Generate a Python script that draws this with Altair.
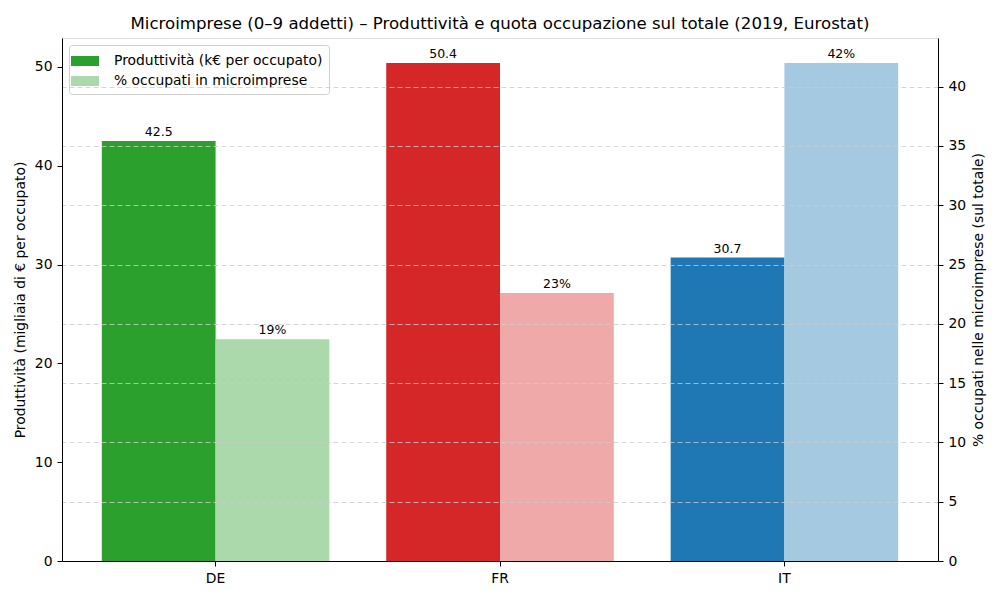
import altair as alt
import pandas as pd

countries = ["DE", "FR", "IT"]
produttivita = [42.5, 50.4, 30.7]
quota_occupati = [18.7, 22.6, 42.0]
dark_colors = ["#2ca02c", "#d62728", "#1f77b4"]
light_colors = ["#abd9ab", "#efa9a9", "#a5c9e1"]
series_labels = {"p": "Produttività (k€ per occupato)", "o": "% occupati in microimprese"}

rows_p = [{"country": c, "series": "p", "key": c + "|p", "value": v, "label": f"{v:.1f}"}
          for c, v in zip(countries, produttivita)]
rows_o = [{"country": c, "series": "o", "key": c + "|o", "value": v, "label": f"{v:.0f}%"}
          for c, v in zip(countries, quota_occupati)]
df_p = pd.DataFrame(rows_p)
df_o = pd.DataFrame(rows_o)

keys = [c + "|p" for c in countries] + [c + "|o" for c in countries]
cols = dark_colors + light_colors

FONT = "DejaVu Sans"
TICK_FS = 13.9

x_enc = alt.X("country:N", sort=countries, title=None,
              scale=alt.Scale(paddingInner=0.2, paddingOuter=0.14),
              axis=alt.Axis(labelAngle=0, labelFontSize=TICK_FS, labelColor="black",
                            tickColor="black", domainColor="black", tickSize=5,
                            labelPadding=5, labelFont=FONT, zindex=2))
xo_enc = alt.XOffset("series:N", scale=alt.Scale(domain=["p", "o"]))

color_enc = alt.Color(
    "key:N",
    scale=alt.Scale(domain=keys, range=cols),
    legend=alt.Legend(
        orient="top-left", offset=7, title=None, values=["DE|p", "DE|o"],
        labelExpr="datum.value == 'DE|p' ? '" + series_labels["p"] + "' : '" + series_labels["o"] + "'",
        symbolType="M-1.4,-0.5H1.4V0.5H-1.4Z", symbolSize=400, symbolOpacity=1,
        symbolStrokeWidth=0, labelFontSize=13.9, labelFont=FONT, labelColor="black",
        strokeColor="#d0d0d0", fillColor="rgba(255,255,255,0.8)", padding=6,
        cornerRadius=3, rowPadding=3, labelLimit=0, labelOffset=19,
    ),
)

y_left = alt.Y("value:Q", title="Produttività (migliaia di € per occupato)",
               scale=alt.Scale(domain=[0, 52.92], nice=False, zero=True),
               axis=alt.Axis(values=[0, 10, 20, 30, 40, 50], grid=False, orient="left",
                             labelFontSize=TICK_FS, labelColor="black", tickColor="black",
                             domainColor="black", tickSize=5, labelPadding=5, titleFontSize=13.9,
                             titleFontWeight="normal", titleColor="black", titlePadding=7,
                             labelFont=FONT, titleFont=FONT, zindex=2))
y_right = alt.Y("value:Q", title="% occupati nelle microimprese (sul totale)",
                scale=alt.Scale(domain=[0, 44.1], nice=False, zero=True),
                axis=alt.Axis(values=[0, 5, 10, 15, 20, 25, 30, 35, 40], grid=True,
                              orient="right", gridColor="#cccccc", gridDash=[5, 3],
                              gridWidth=0.8, zindex=1,
                              labelFontSize=TICK_FS, labelColor="black", tickColor="black",
                              domainColor="black", tickSize=5, labelPadding=5, titleFontSize=13.9,
                              titleFontWeight="normal", titleColor="black", titlePadding=20,
                              titleAngle=270, labelFont=FONT, titleFont=FONT))

bars_p = alt.Chart(df_p).mark_bar().encode(x=x_enc, xOffset=xo_enc, y=y_left, color=color_enc)
text_p = alt.Chart(df_p).mark_text(baseline="bottom", dy=-2, fontSize=12.5, font=FONT,
                                   color="black").encode(x=x_enc, xOffset=xo_enc, y=y_left,
                                                         text="label:N")
bars_o = alt.Chart(df_o).mark_bar().encode(x=x_enc, xOffset=xo_enc, y=y_right, color=color_enc)
text_o = alt.Chart(df_o).mark_text(baseline="bottom", dy=-2, fontSize=12.5, font=FONT,
                                   color="black").encode(x=x_enc, xOffset=xo_enc, y=y_right,
                                                         text="label:N")

left = alt.layer(bars_p, text_p)
right = alt.layer(bars_o, text_o)

chart = alt.layer(left, right).resolve_scale(y="independent").properties(
    width=876, height=523,
    title=alt.Title("Microimprese (0–9 addetti) – Produttività e quota occupazione sul totale (2019, Eurostat)",
                    fontSize=16.6, font=FONT, fontWeight="normal", color="black", offset=5),
    autosize=alt.AutoSizeParams(type="none"),
    padding={"left": 54, "top": 30, "right": 54, "bottom": 30},
).configure_view(stroke="black", strokeWidth=1).configure(background="white")

chart.save("out.html", embed_options={"renderer": "svg", "actions": False})
